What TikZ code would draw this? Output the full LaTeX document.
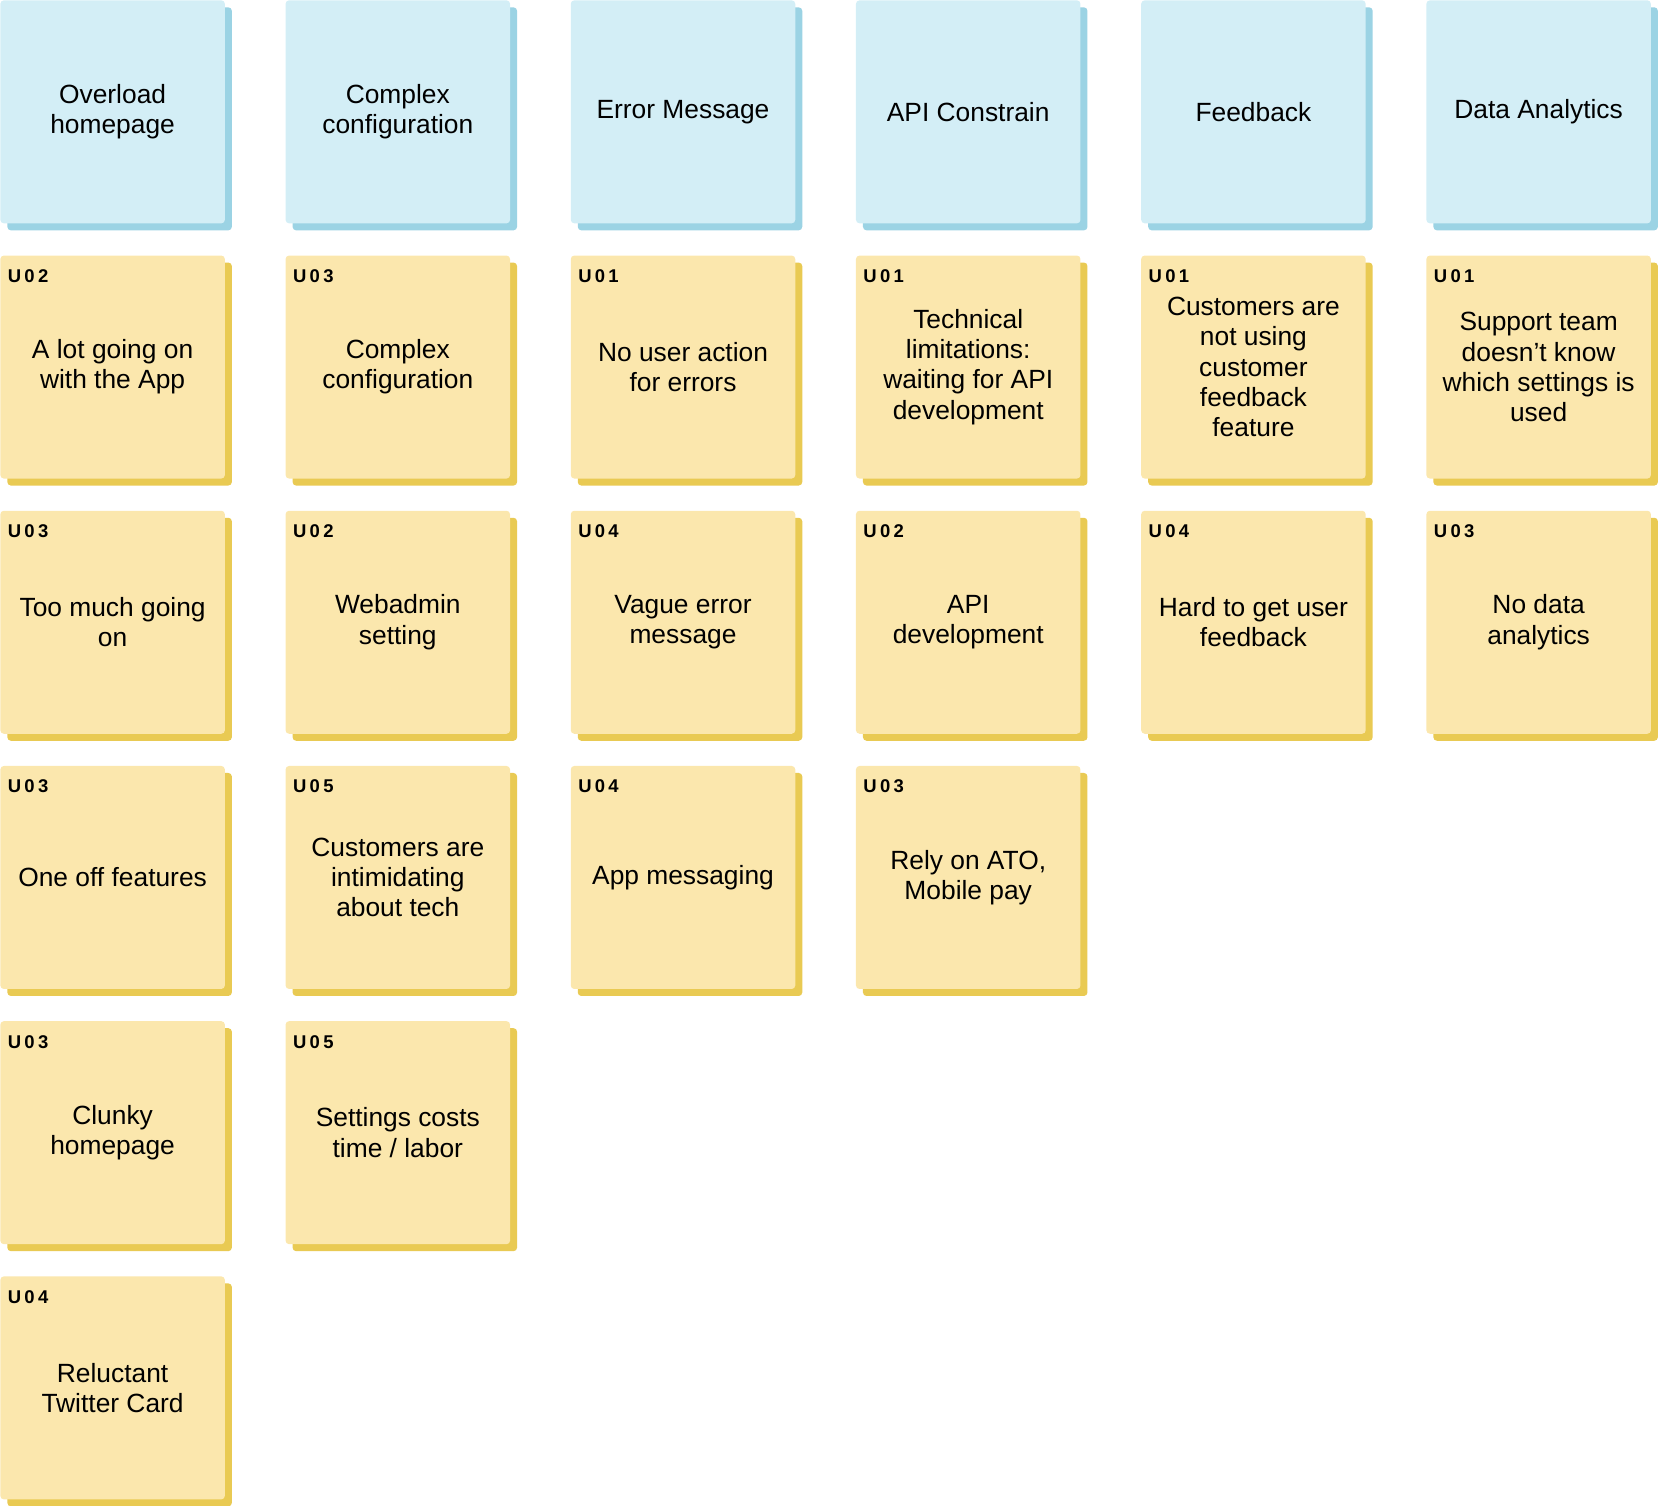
\documentclass[tikz,border=0pt]{standalone}
\usepackage{fontspec}
\setmainfont{Liberation Sans}
\usetikzlibrary{positioning,shadows}
\definecolor{myBLUE}{HTML}{D3EEF6}
\definecolor{myBLUESHADE}{HTML}{9BD3E4}
\definecolor{myYELLOW}{HTML}{FBE7AD}
\definecolor{myYELLOWSHADE}{HTML}{E9CA53}

\begin{document}
\begin{tikzpicture}[node distance=0.63cm and 1.2cm, rounded corners=2pt, font=\fontsize{15}{17.2}\selectfont,
    header/.style={fill=myBLUE, general shadow={fill=myBLUESHADE, shadow xshift=0.14cm, shadow yshift=-0.14cm}, align=center, minimum width=4.49cm, minimum height=4.46cm, inner sep=0pt},
    note/.style={fill=myYELLOW, general shadow={fill=myYELLOWSHADE, shadow xshift=0.14cm, shadow yshift=-0.14cm}, align=center, minimum width=4.49cm, minimum height=4.46cm, inner sep=0pt},
    tag/.style={inner sep=0pt, font=\fontsize{10.5}{12}\selectfont\bfseries\addfontfeatures{LetterSpace=18}}]
    \useasboundingbox (0,0) rectangle (33.18,-30.12);

    % Headers
    \node[header, anchor=north west] (c11) at (0,0) {Overload\\homepage};
    \node[header, right=of c11] (c12) {Complex\\configuration};
    \node[header, right=of c12] (c13) {Error Message};
    \node[header, right=of c13] (c14) {API Constrain};
    \node[header, right=of c14] (c15) {Feedback};
    \node[header, right=of c15] (c16) {Data Analytics};

    % Column 1
    \node[note, below=of c11] (c21) {A lot going on\\with the App};
    \node[note, below=of c21] (c31) {Too much going\\on};
    \node[note, below=of c31] (c41) {One off features};
    \node[note, below=of c41] (c51) {Clunky\\homepage};
    \node[note, below=of c51] (c61) {Reluctant\\Twitter Card};
    % Column 2
    \node[note, below=of c12] (c22) {Complex\\configuration};
    \node[note, below=of c22] (c32) {Webadmin\\setting};
    \node[note, below=of c32] (c42) {Customers are\\intimidating\\about tech};
    \node[note, below=of c42] (c52) {Settings costs\\time / labor};
    % Column 3
    \node[note, below=of c13] (c23) {No user action\\for errors};
    \node[note, below=of c23] (c33) {Vague error\\message};
    \node[note, below=of c33] (c43) {App messaging};
    % Column 4
    \node[note, below=of c14] (c24) {Technical\\limitations:\\waiting for API\\development};
    \node[note, below=of c24] (c34) {API\\development};
    \node[note, below=of c34] (c44) {Rely on ATO,\\Mobile pay};
    % Column 5
    \node[note, below=of c15] (c25) {Customers are\\not using\\customer\\feedback\\feature};
    \node[note, below=of c25] (c35) {Hard to get user\\feedback};
    % Column 6
    \node[note, below=of c16] (c26) {Support team\\doesn’t know\\which settings is\\used};
    \node[note, below=of c26] (c36) {No data\\analytics};

    % Tags
    \node[tag, below right=0.28cm and 0.15cm of c21.north west] (t21) {U02};
    \node[tag, below right=0.28cm and 0.15cm of c31.north west] (t31) {U03};
    \node[tag, below right=0.28cm and 0.15cm of c41.north west] (t41) {U03};
    \node[tag, below right=0.28cm and 0.15cm of c51.north west] (t51) {U03};
    \node[tag, below right=0.28cm and 0.15cm of c61.north west] (t61) {U04};
    \node[tag, below right=0.28cm and 0.15cm of c22.north west] (t22) {U03};
    \node[tag, below right=0.28cm and 0.15cm of c32.north west] (t32) {U02};
    \node[tag, below right=0.28cm and 0.15cm of c42.north west] (t42) {U05};
    \node[tag, below right=0.28cm and 0.15cm of c52.north west] (t52) {U05};
    \node[tag, below right=0.28cm and 0.15cm of c23.north west] (t23) {U01};
    \node[tag, below right=0.28cm and 0.15cm of c33.north west] (t33) {U04};
    \node[tag, below right=0.28cm and 0.15cm of c43.north west] (t43) {U04};
    \node[tag, below right=0.28cm and 0.15cm of c24.north west] (t24) {U01};
    \node[tag, below right=0.28cm and 0.15cm of c34.north west] (t34) {U02};
    \node[tag, below right=0.28cm and 0.15cm of c44.north west] (t44) {U03};
    \node[tag, below right=0.28cm and 0.15cm of c25.north west] (t25) {U01};
    \node[tag, below right=0.28cm and 0.15cm of c35.north west] (t35) {U04};
    \node[tag, below right=0.28cm and 0.15cm of c26.north west] (t26) {U01};
    \node[tag, below right=0.28cm and 0.15cm of c36.north west] (t36) {U03};
\end{tikzpicture}
\end{document}
